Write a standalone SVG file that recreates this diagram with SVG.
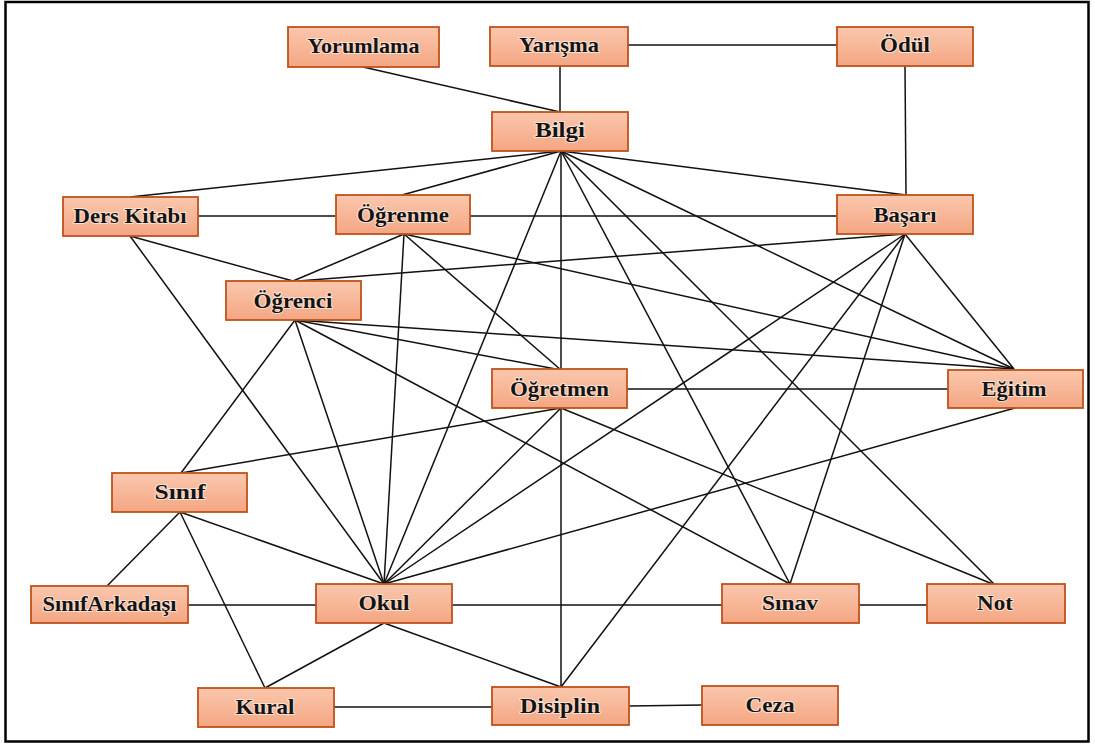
<svg xmlns="http://www.w3.org/2000/svg" width="1095" height="744" viewBox="0 0 1095 744">
<style>
.box{fill:url(#g);stroke:#bf521c;stroke-width:1.8}
.lbl{font-family:"Liberation Serif","Times New Roman",serif;font-weight:bold;font-size:21px;fill:#141414;text-anchor:middle;paint-order:stroke;stroke:#fff3ea;stroke-width:2px;stroke-opacity:0.7}
.e line{stroke:#111;stroke-width:1.5;fill:none}
</style>
<defs>
<linearGradient id="g" x1="0" y1="0" x2="0" y2="1">
<stop offset="0" stop-color="#fac7ad"/>
<stop offset="1" stop-color="#f4a682"/>
</linearGradient>
</defs>
<rect x="0" y="0" width="1095" height="744" fill="#fff"/>
<rect x="5.5" y="2" width="1083" height="739.5" fill="none" stroke="#000" stroke-width="2.5"/>
<g id="connectors" class="e">
<line x1="363" y1="67" x2="560" y2="112"/>
<line x1="560" y1="66" x2="560" y2="112"/>
<line x1="628" y1="45" x2="837" y2="45"/>
<line x1="905" y1="66" x2="906" y2="195"/>
<line x1="561" y1="151" x2="130" y2="197"/>
<line x1="561" y1="151" x2="402" y2="195"/>
<line x1="561" y1="151" x2="906" y2="195"/>
<line x1="561" y1="151" x2="561" y2="370"/>
<line x1="561" y1="151" x2="384" y2="584"/>
<line x1="561" y1="151" x2="790" y2="584"/>
<line x1="561" y1="151" x2="995" y2="585"/>
<line x1="561" y1="151" x2="1014" y2="369"/>
<line x1="198" y1="216" x2="336" y2="216"/>
<line x1="130" y1="236" x2="293" y2="281"/>
<line x1="130" y1="236" x2="384" y2="584"/>
<line x1="470" y1="216" x2="837" y2="216"/>
<line x1="404" y1="234" x2="293" y2="281"/>
<line x1="404" y1="234" x2="384" y2="584"/>
<line x1="404" y1="234" x2="561" y2="370"/>
<line x1="404" y1="234" x2="1014" y2="369"/>
<line x1="905" y1="234" x2="298" y2="281"/>
<line x1="905" y1="234" x2="384" y2="584"/>
<line x1="905" y1="234" x2="561" y2="687"/>
<line x1="905" y1="234" x2="790" y2="584"/>
<line x1="905" y1="234" x2="1014" y2="369"/>
<line x1="295" y1="320" x2="181" y2="473"/>
<line x1="295" y1="320" x2="384" y2="584"/>
<line x1="295" y1="320" x2="561" y2="370"/>
<line x1="295" y1="320" x2="1014" y2="369"/>
<line x1="295" y1="320" x2="790" y2="584"/>
<line x1="627" y1="389" x2="948" y2="389"/>
<line x1="561" y1="408" x2="181" y2="473"/>
<line x1="561" y1="408" x2="384" y2="584"/>
<line x1="561" y1="408" x2="561" y2="687"/>
<line x1="561" y1="408" x2="995" y2="585"/>
<line x1="1015" y1="408" x2="384" y2="584"/>
<line x1="180" y1="512" x2="107" y2="586"/>
<line x1="180" y1="512" x2="265" y2="688"/>
<line x1="180" y1="512" x2="384" y2="584"/>
<line x1="188" y1="605" x2="316" y2="605"/>
<line x1="452" y1="605" x2="722" y2="605"/>
<line x1="859" y1="605" x2="927" y2="605"/>
<line x1="384" y1="623" x2="265" y2="688"/>
<line x1="384" y1="623" x2="561" y2="687"/>
<line x1="334" y1="707" x2="492" y2="707"/>
<line x1="629" y1="706" x2="702" y2="705"/>
</g>
<g id="n-yorumlama"><rect class="box" x="288" y="27" width="151" height="40"/><text class="lbl" x="363.5" y="53" textLength="112" lengthAdjust="spacingAndGlyphs">Yorumlama</text></g>
<g id="n-yarisma"><rect class="box" x="490" y="27" width="138" height="39"/><text class="lbl" x="559" y="52" textLength="80" lengthAdjust="spacingAndGlyphs">Yarışma</text></g>
<g id="n-odul"><rect class="box" x="837" y="27" width="136" height="39"/><text class="lbl" x="905" y="52" textLength="50" lengthAdjust="spacingAndGlyphs">Ödül</text></g>
<g id="n-bilgi"><rect class="box" x="492" y="112" width="136" height="39"/><text class="lbl" x="560" y="137" textLength="50" lengthAdjust="spacingAndGlyphs">Bilgi</text></g>
<g id="n-derskitabi"><rect class="box" x="63" y="197" width="135" height="39"/><text class="lbl" x="130" y="223" textLength="113" lengthAdjust="spacingAndGlyphs">Ders Kitabı</text></g>
<g id="n-ogrenme"><rect class="box" x="336" y="195" width="134" height="39"/><text class="lbl" x="403" y="222" textLength="92" lengthAdjust="spacingAndGlyphs">Öğrenme</text></g>
<g id="n-basari"><rect class="box" x="837" y="195" width="136" height="39"/><text class="lbl" x="905" y="222" textLength="63" lengthAdjust="spacingAndGlyphs">Başarı</text></g>
<g id="n-ogrenci"><rect class="box" x="226" y="281" width="135" height="39"/><text class="lbl" x="293" y="308" textLength="79" lengthAdjust="spacingAndGlyphs">Öğrenci</text></g>
<g id="n-ogretmen"><rect class="box" x="492" y="369" width="135" height="39"/><text class="lbl" x="559.5" y="396" textLength="99" lengthAdjust="spacingAndGlyphs">Öğretmen</text></g>
<g id="n-egitim"><rect class="box" x="948" y="370" width="135" height="38"/><text class="lbl" x="1014" y="396" textLength="65" lengthAdjust="spacingAndGlyphs">Eğitim</text></g>
<g id="n-sinif"><rect class="box" x="112" y="473" width="135" height="39"/><text class="lbl" x="180" y="499" textLength="51" lengthAdjust="spacingAndGlyphs">Sınıf</text></g>
<g id="n-sinifarkadasi"><rect class="box" x="31" y="586" width="157" height="37"/><text class="lbl" x="109.5" y="611" textLength="134" lengthAdjust="spacingAndGlyphs">SınıfArkadaşı</text></g>
<g id="n-okul"><rect class="box" x="316" y="584" width="136" height="39"/><text class="lbl" x="384" y="610" textLength="51" lengthAdjust="spacingAndGlyphs">Okul</text></g>
<g id="n-sinav"><rect class="box" x="722" y="584" width="137" height="39"/><text class="lbl" x="790" y="610" textLength="56" lengthAdjust="spacingAndGlyphs">Sınav</text></g>
<g id="n-not"><rect class="box" x="927" y="584" width="138" height="39"/><text class="lbl" x="995" y="610" textLength="36" lengthAdjust="spacingAndGlyphs">Not</text></g>
<g id="n-kural"><rect class="box" x="198" y="688" width="136" height="39"/><text class="lbl" x="265" y="714" textLength="59" lengthAdjust="spacingAndGlyphs">Kural</text></g>
<g id="n-disiplin"><rect class="box" x="492" y="687" width="137" height="38"/><text class="lbl" x="560" y="713" textLength="80" lengthAdjust="spacingAndGlyphs">Disiplin</text></g>
<g id="n-ceza"><rect class="box" x="702" y="686" width="136" height="39"/><text class="lbl" x="770" y="712" textLength="49" lengthAdjust="spacingAndGlyphs">Ceza</text></g>
</svg>
